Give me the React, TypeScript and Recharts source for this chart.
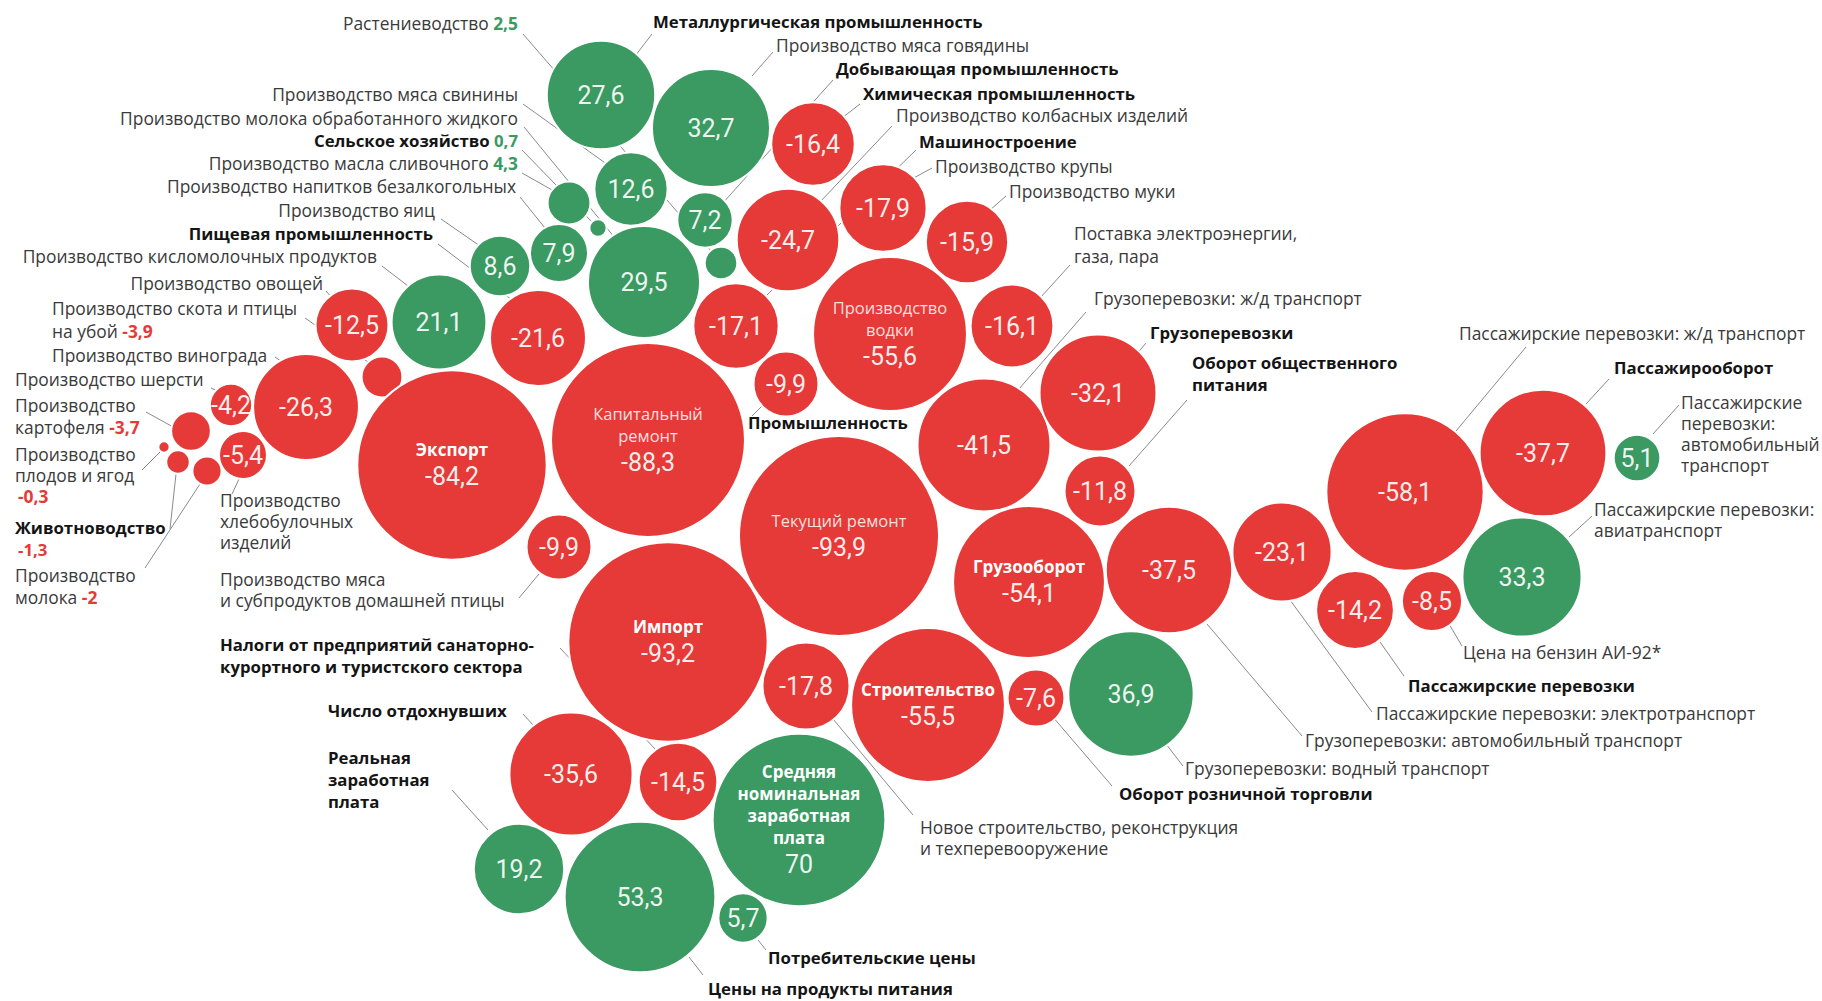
import React from "react";
import { ScatterChart, Scatter, XAxis, YAxis, ZAxis, ReferenceLine } from "recharts";

const RED = "#e53a37";
const GREEN = "#3b9a62";
const W = 1822;
const H = 1001;
// radius in px per sqrt(|%|)
const K = 10.32;

const names = [
  "Растениеводство",
  "Металлургическая промышленность",
  "Производство мяса говядины",
  "Добывающая промышленность",
  "Химическая промышленность",
  "Производство колбасных изделий",
  "Машиностроение",
  "Производство крупы",
  "Производство муки",
  "Производство мяса свинины",
  "Производство молока обработанного жидкого",
  "Сельское хозяйство",
  "Производство масла сливочного",
  "Производство напитков безалкогольных",
  "Производство яиц",
  "Пищевая промышленность",
  "Производство кисломолочных продуктов",
  "Производство овощей",
  "Производство скота и птицы на убой",
  "Производство винограда",
  "Производство шерсти",
  "Производство картофеля",
  "Производство плодов и ягод",
  "Животноводство",
  "Производство молока",
  "Производство хлебобулочных изделий",
  "Экспорт",
  "Капитальный ремонт",
  "Производство мяса и субпродуктов домашней птицы",
  "Промышленность",
  "Производство водки",
  "Поставка электроэнергии, газа, пара",
  "Грузоперевозки: ж/д транспорт",
  "Грузоперевозки",
  "Оборот общественного питания",
  "Текущий ремонт",
  "Импорт",
  "Грузооборот",
  "Грузоперевозки: автомобильный транспорт",
  "Пассажирские перевозки: электротранспорт",
  "Пассажирские перевозки: ж/д транспорт",
  "Пассажирооборот",
  "Пассажирские перевозки: автомобильный транспорт",
  "Пассажирские перевозки: авиатранспорт",
  "Пассажирские перевозки",
  "Цена на бензин АИ-92*",
  "Новое строительство, реконструкция и техперевооружение",
  "Строительство",
  "Оборот розничной торговли",
  "Грузоперевозки: водный транспорт",
  "Налоги от предприятий санаторно-курортного и туристского сектора",
  "Число отдохнувших",
  "Средняя номинальная заработная плата",
  "Реальная заработная плата",
  "Цены на продукты питания",
  "Потребительские цены",
];

const values = [
  2.5, 27.6, 32.7, 7.2, -16.4, -24.7, -17.1, -17.9, -15.9, 12.6,
  29.5, 0.7, 4.3, 7.9, 8.6, -21.6, 21.1, -12.5, -3.9, -26.3,
  -4.2, -3.7, -0.3, -1.3, -2, -5.4, -84.2, -88.3, -9.9, -9.9,
  -55.6, -16.1, -41.5, -32.1, -11.8, -93.9, -93.2, -54.1, -37.5, -23.1,
  -58.1, -37.7, 5.1, 33.3, -14.2, -8.5, -17.8, -55.5, -7.6, 36.9,
  -14.5, -35.6, 70, 19.2, 53.3, 5.7,
];

// packed layout (bubble centres), same order as names
const centers: [number, number][] = [
  [721, 263], [601, 95], [711, 128], [705, 220], [813, 144], [788, 240], [736, 326], [883, 208], [967, 242], [631, 189],
  [644, 282], [598, 228], [569, 203], [559, 253], [500, 266], [538, 338], [439, 322], [352, 325], [382, 377], [306, 407],
  [231, 405], [191, 431], [164, 447], [178, 462], [207, 471], [243, 455], [452, 465], [648, 440], [559, 547], [786, 384],
  [890, 334], [1012, 326], [984, 445], [1098, 393], [1100, 491], [839, 536], [668, 642], [1029, 582], [1169, 570], [1282, 552],
  [1405, 492], [1543, 453], [1637, 458], [1522, 577], [1355, 610], [1432, 601], [806, 686], [928, 705], [1036, 698], [1131, 694],
  [678, 782], [571, 774], [799, 820], [519, 869], [640, 897], [743, 918],
];

// titles drawn inside the big bubbles
const innerTitles: Record<number, string[]> = {
  26: ["Экспорт"],
  27: ["Капитальный", "ремонт"],
  30: ["Производство", "водки"],
  35: ["Текущий ремонт"],
  36: ["Импорт"],
  37: ["Грузооборот"],
  47: ["Строительство"],
  52: ["Средняя", "номинальная", "заработная", "плата"],
};
const boldInner = [26, 36, 37, 47, 52];
// bubbles whose value is printed in the outside label instead
const valueOutside = [0, 11, 12, 18, 21, 22, 23, 24];

type Note = {
  x: number;
  y: number;
  lines: string[];
  bold?: boolean;
  end?: boolean;
  lh?: number;
  val?: number;
  valNewLine?: boolean;
};

const notes: Note[] = [
  { x: 518, y: 30, end: true, lines: ["Растениеводство "], val: 0 },
  { x: 653, y: 28, bold: true, lines: ["Металлургическая промышленность"] },
  { x: 776, y: 52, lines: ["Производство мяса говядины"] },
  { x: 836, y: 75, bold: true, lines: ["Добывающая промышленность"] },
  { x: 863, y: 100, bold: true, lines: ["Химическая промышленность"] },
  { x: 896, y: 122, lines: ["Производство колбасных изделий"] },
  { x: 919, y: 148, bold: true, lines: ["Машиностроение"] },
  { x: 935, y: 173, lines: ["Производство крупы"] },
  { x: 1009, y: 198, lines: ["Производство муки"] },
  { x: 1074, y: 240, lh: 23, lines: ["Поставка электроэнергии,", "газа, пара"] },
  { x: 1094, y: 305, lines: ["Грузоперевозки: ж/д транспорт"] },
  { x: 1150, y: 339, bold: true, lines: ["Грузоперевозки"] },
  { x: 1192, y: 369, bold: true, lh: 22, lines: ["Оборот общественного", "питания"] },
  { x: 1459, y: 340, lines: ["Пассажирские перевозки: ж/д транспорт"] },
  { x: 1614, y: 374, bold: true, lines: ["Пассажирооборот"] },
  { x: 1681, y: 409, lh: 21, lines: ["Пассажирские", "перевозки:", "автомобильный", "транспорт"] },
  { x: 1594, y: 516, lh: 21, lines: ["Пассажирские перевозки:", "авиатранспорт"] },
  { x: 1463, y: 659, lines: ["Цена на бензин АИ-92*"] },
  { x: 1408, y: 692, bold: true, lines: ["Пассажирские перевозки"] },
  { x: 1376, y: 720, lines: ["Пассажирские перевозки: электротранспорт"] },
  { x: 1305, y: 747, lines: ["Грузоперевозки: автомобильный транспорт"] },
  { x: 1185, y: 775, lines: ["Грузоперевозки: водный транспорт"] },
  { x: 1119, y: 800, bold: true, lines: ["Оборот розничной торговли"] },
  { x: 920, y: 834, lh: 21, lines: ["Новое строительство, реконструкция", "и техперевооружение"] },
  { x: 768, y: 964, bold: true, lines: ["Потребительские цены"] },
  { x: 708, y: 995, bold: true, lines: ["Цены на продукты питания"] },
  { x: 328, y: 764, bold: true, lh: 22, lines: ["Реальная", "заработная", "плата"] },
  { x: 328, y: 717, bold: true, lines: ["Число отдохнувших"] },
  { x: 220, y: 651, bold: true, lh: 22, lines: ["Налоги от предприятий санаторно-", "курортного и туристского сектора"] },
  { x: 220, y: 586, lh: 21, lines: ["Производство мяса", "и субпродуктов домашней птицы"] },
  { x: 220, y: 507, lh: 21, lines: ["Производство", "хлебобулочных", "изделий"] },
  { x: 15, y: 582, lh: 22, lines: ["Производство", "молока "], val: 24 },
  { x: 15, y: 534, bold: true, lh: 22, lines: ["Животноводство"], val: 23, valNewLine: true },
  { x: 15, y: 461, lh: 21, lines: ["Производство", "плодов и ягод"], val: 22, valNewLine: true },
  { x: 15, y: 412, lh: 22, lines: ["Производство", "картофеля "], val: 21 },
  { x: 15, y: 386, lines: ["Производство шерсти"] },
  { x: 52, y: 362, lines: ["Производство винограда"] },
  { x: 52, y: 315, lh: 23, lines: ["Производство скота и птицы", "на убой "], val: 18 },
  { x: 323, y: 290, end: true, lines: ["Производство овощей"] },
  { x: 377, y: 263, end: true, lines: ["Производство кисломолочных продуктов"] },
  { x: 433, y: 240, end: true, bold: true, lines: ["Пищевая промышленность"] },
  { x: 435, y: 217, end: true, lines: ["Производство яиц"] },
  { x: 516, y: 193, end: true, lines: ["Производство напитков безалкогольных"] },
  { x: 518, y: 170, end: true, lines: ["Производство масла сливочного "], val: 12 },
  { x: 518, y: 147, end: true, bold: true, lines: ["Сельское хозяйство "], val: 11 },
  { x: 518, y: 125, end: true, lines: ["Производство молока обработанного жидкого"] },
  { x: 518, y: 101, end: true, lines: ["Производство мяса свинины"] },
  { x: 748, y: 429, bold: true, lines: ["Промышленность"] },
];

// leader lines [x1, y1, x2, y2]
const leaders: [number, number, number, number][] = [
  [523, 34, 712, 252], [652, 34, 632, 60], [773, 52, 752, 76], [833, 80, 722, 204],
  [860, 104, 842, 118], [892, 126, 820, 202], [916, 150, 766, 296], [932, 168, 910, 180],
  [1006, 196, 990, 210], [523, 104, 608, 165], [524, 127, 615, 238], [522, 150, 592, 222],
  [522, 173, 552, 190], [520, 197, 545, 228], [441, 219, 480, 246], [438, 244, 512, 300],
  [382, 266, 408, 286], [326, 291, 332, 298], [305, 318, 368, 362], [275, 357, 282, 362],
  [211, 388, 220, 392], [146, 412, 175, 428], [142, 470, 161, 451], [170, 529, 176, 474],
  [145, 568, 200, 484], [232, 494, 239, 479], [519, 598, 539, 574], [560, 648, 656, 750],
  [523, 714, 545, 738], [452, 790, 488, 830], [758, 940, 766, 950], [689, 957, 703, 975],
  [823, 707, 913, 815], [1052, 716, 1112, 786], [1166, 744, 1183, 766], [1207, 624, 1302, 736],
  [1290, 600, 1372, 712], [1380, 642, 1404, 676], [1449, 624, 1462, 646], [1569, 537, 1592, 516],
  [1653, 434, 1679, 405], [1586, 404, 1609, 379], [1456, 431, 1526, 347], [1146, 343, 1125, 368],
  [1086, 312, 1005, 405], [1187, 400, 1129, 466], [1070, 265, 1040, 298], [752, 416, 762, 406],
];

const fmt = (v: number) => String(v).replace(".", ",");

const bubbles = names.map((name, i) => ({
  i,
  name,
  value: values[i],
  size: Math.abs(values[i]),
  x: centers[i][0],
  y: centers[i][1],
}));

const LABEL_FONT = "'Open Sans', Roboto, sans-serif";
const NUM_FONT = "Roboto, 'Open Sans', sans-serif";

function Bubble(props: any) {
  const { cx, cy, payload } = props;
  let r = Math.sqrt((props.size ?? 0) / Math.PI);
  if (!r || isNaN(r)) r = K * Math.sqrt(Math.abs(payload.value));
  const fill = payload.value >= 0 ? GREEN : RED;
  const titles = innerTitles[payload.i];
  const showVal = !valueOutside.includes(payload.i);
  const bold = boldInner.includes(payload.i);
  const lh = 22;
  const block = titles ? titles.length * lh + 32 : 0;
  const top = cy - block / 2;
  return (
    <g>
      <circle cx={cx} cy={cy} r={r} fill={fill} stroke="#fff" strokeWidth={2} />
      {titles &&
        titles.map((t, k) => (
          <text
            key={k}
            x={cx}
            y={top + lh * k + lh / 2}
            textAnchor="middle"
            dominantBaseline="central"
            fontFamily={LABEL_FONT}
            fontSize={bold ? 17 : 16.5}
            fontWeight={bold ? 700 : 400}
            fill="#fff"
            fillOpacity={bold ? 1 : 0.85}
          >
            {t}
          </text>
        ))}
      {showVal && (
        <text
          x={cx}
          y={titles ? top + titles.length * lh + 16 : cy}
          textAnchor="middle"
          dominantBaseline="central"
          fontFamily={NUM_FONT}
          fontSize={25}
          fill="#fff"
          fillOpacity={0.92}
        >
          {fmt(payload.value)}
        </text>
      )}
    </g>
  );
}

function NoteShape(props: any) {
  const { cx, cy, payload } = props;
  const n: Note = payload;
  const lh = n.lh ?? 21;
  const v = n.val !== undefined ? values[n.val] : undefined;
  const vColor = v !== undefined && v >= 0 ? GREEN : RED;
  const last = n.lines.length - 1;
  return (
    <text
      x={cx}
      y={cy}
      textAnchor={n.end ? "end" : "start"}
      fontFamily={LABEL_FONT}
      fontSize={n.bold ? 16.8 : 17.4}
      fontWeight={n.bold ? 700 : 400}
      fill={n.bold ? "#141414" : "#3a3a3a"}
    >
      {n.lines.map((ln, k) => (
        <tspan key={k} x={cx} y={cy + k * lh}>
          {ln}
          {k === last && v !== undefined && !n.valNewLine && (
            <tspan fill={vColor} fontWeight={700}>
              {fmt(v)}
            </tspan>
          )}
        </tspan>
      ))}
      {v !== undefined && n.valNewLine && (
        <tspan x={cx + 3} y={cy + n.lines.length * lh} fill={vColor} fontWeight={700}>
          {fmt(v)}
        </tspan>
      )}
    </text>
  );
}

export default function App() {
  return (
    <div style={{ position: "absolute", left: 0, top: 0, width: W, height: H, background: "#fff" }}>
      <ScatterChart width={W} height={H} margin={{ top: 0, right: 0, bottom: 0, left: 0 }}>
        <XAxis type="number" dataKey="x" domain={[0, W]} hide />
        <YAxis type="number" dataKey="y" domain={[0, H]} reversed hide />
        <ZAxis type="number" dataKey="size" domain={[0, 100]} range={[0, Math.PI * K * K * 100]} />
        <Scatter data={bubbles} shape={Bubble} isAnimationActive={false} />
        {leaders.map((l, k) => (
          <ReferenceLine
            key={k}
            segment={[
              { x: l[0], y: l[1] },
              { x: l[2], y: l[3] },
            ]}
            stroke="#8a8a8a"
            strokeWidth={1}
          />
        ))}
        <Scatter data={notes} shape={NoteShape} isAnimationActive={false} />
      </ScatterChart>
    </div>
  );
}
